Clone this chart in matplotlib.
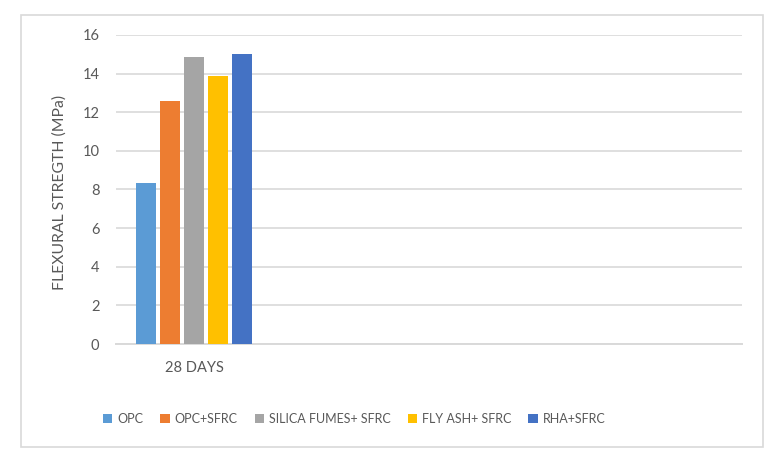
"""
Flexural strength at 28 days, bar chart rebuilt from an Excel-style figure.
"""

import matplotlib
import matplotlib.pyplot as plt
from matplotlib.patches import Patch, Rectangle

matplotlib.use("Agg")

plt.rcParams["font.family"] = ["Lato", "DejaVu Sans"]

# --- data ---
CATEGORIES = ["28 DAYS", "", "", ""]
SERIES = ["OPC", "OPC+SFRC", "SILICA FUMES+ SFRC", "FLY ASH+ SFRC", "RHA+SFRC"]
VALUES = [8.35, 12.6, 14.87, 13.88, 15.03]
COLORS = ["#5B9BD5", "#ED7D31", "#A5A5A5", "#FFC000", "#4472C4"]
YTICKS = [0, 2, 4, 6, 8, 10, 12, 14, 16]

TEXT = "#595959"
GRID = "#D9D9D9"

W, H = 781, 459


def main():
    fig = plt.figure(figsize=(W / 100, H / 100), dpi=100, facecolor="white")

    # outer chart border
    fig.patches.append(Rectangle((21 / W, 1 - 447 / H), 742 / W, 432 / H,
                                 transform=fig.transFigure, fill=False,
                                 edgecolor=GRID, linewidth=1.2))

    ax = fig.add_axes([116 / W, 1 - 344 / H, 626 / W, 309 / H])

    step, width = 0.1536, 0.128
    n = len(SERIES)
    for i, (name, val, col) in enumerate(zip(SERIES, VALUES, COLORS)):
        ax.bar(0 + (i - (n - 1) / 2) * step, val, width=width, color=col,
               label=name, zorder=3)

    ax.set_xlim(-0.5, len(CATEGORIES) - 0.5)
    ax.set_ylim(0, 16)
    ax.set_yticks(YTICKS)
    ax.set_yticklabels([str(t) for t in YTICKS], fontsize=10.5, color=TEXT)
    ax.set_xticks(range(len(CATEGORIES)))
    ax.set_xticklabels(CATEGORIES, fontsize=10.5, color=TEXT)
    ax.tick_params(axis="x", length=0, pad=12)
    ax.tick_params(axis="y", length=0, pad=12)

    ax.yaxis.grid(True, color=GRID, linewidth=1.2, zorder=0)
    ax.set_axisbelow(True)
    for side in ("top", "right", "left"):
        ax.spines[side].set_visible(False)
    ax.spines["bottom"].set_color(GRID)
    ax.spines["bottom"].set_linewidth(1.4)

    fig.text(60 / W, 1 - 192 / H, "FLEXURAL STREGTH (MPa)", rotation=90,
             ha="center", va="center", fontsize=11.3, color=TEXT)

    handles = [Patch(facecolor=c, edgecolor="none") for c in COLORS]
    leg = fig.legend(handles, SERIES, loc="center left", ncol=5,
                     bbox_to_anchor=(103 / W, 1 - 419 / H), frameon=False,
                     fontsize=9, handlelength=0.75, handleheight=0.75,
                     handletextpad=0.4, columnspacing=1.35, borderpad=0,
                     borderaxespad=0)
    for t in leg.get_texts():
        t.set_color(TEXT)

    fig.savefig("out.png", dpi=100, facecolor="white")
    plt.close(fig)


if __name__ == "__main__":
    main()
